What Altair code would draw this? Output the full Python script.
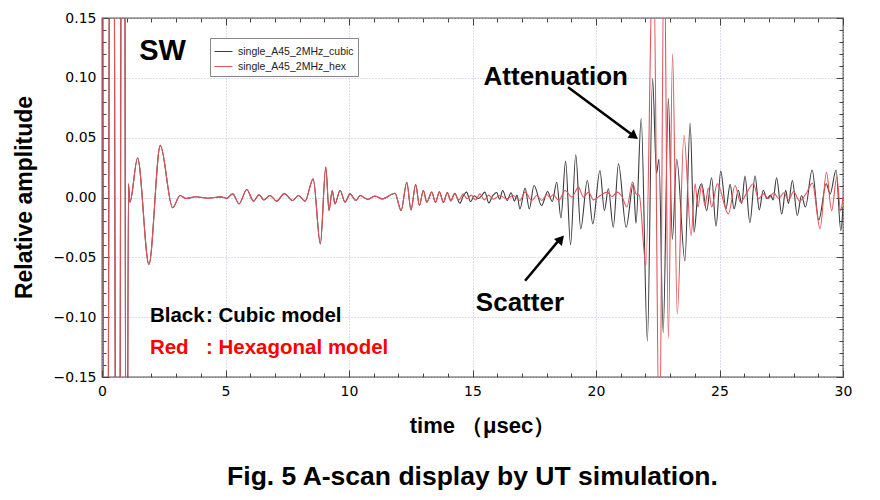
import altair as alt
import pandas as pd

# ---------------- data ----------------
# part shared by both models (0 - 13.5 us)
common_t = [0.00, 0.15, 0.40, 0.64, 0.86, 1.00, 1.07, 1.13, 1.44, 1.90, 2.36, 2.86, 3.16, 3.40,
            3.80, 4.30, 4.80, 5.05, 5.29, 5.55, 5.86, 6.13, 6.36, 6.56, 6.80, 7.07, 7.38, 7.72,
            7.95, 8.22, 8.55, 8.84, 9.06, 9.19, 9.32, 9.43, 9.64, 9.84, 10.04, 10.28, 10.45,
            10.75, 11.05, 11.35, 11.86, 12.11, 12.34, 12.51, 12.70, 12.85, 13.01, 13.15, 13.35, 13.50]
common_v = [0.6, -0.8, 0.8, -0.8, 0.8, -0.5, 0.0115, -0.004, 0.033, -0.056, 0.0436, -0.0086, 0.0017, -0.0008,
            0.0006, -0.0006, 0.0005, -0.0006, 0.003, -0.0053, 0.0067, -0.003, 0.0022, -0.002, 0.0017, -0.003, 0.0032, -0.0025,
            0.0017, -0.003, 0.0156, -0.0388, 0.0254, -0.0109, 0.0059, -0.0053, 0.0059, -0.0039, 0.003, -0.0025, 0.0017,
            -0.0015, 0.0012, -0.0012, 0.0036, -0.0109, 0.0128, -0.0103, 0.0109, -0.0067, 0.0059, -0.004, 0.0045, -0.004]

cubic_t = [13.66, 13.82, 13.98, 14.12, 14.28, 14.49, 14.62, 14.76, 14.92, 15.08, 15.22, 15.36, 15.50, 15.66,
           15.82, 15.98, 16.10, 16.22, 16.40, 16.56, 16.70, 16.80, 16.92, 17.13, 17.30, 17.49, 17.80, 18.04,
           18.23, 18.41, 18.58, 18.77, 18.97, 19.18, 19.38, 19.65, 19.87, 20.16, 20.34, 20.50, 20.70, 20.91,
           21.22, 21.51, 21.62, 21.83, 22.08, 22.29, 22.45, 22.55, 22.72, 22.93, 23.09, 23.27, 23.60, 23.81,
           23.97, 24.12, 24.28, 24.48, 24.68, 24.86, 25.05, 25.26, 25.43, 25.59, 25.76, 25.90, 26.03, 26.23,
           26.44, 26.61, 26.77, 26.92, 27.07, 27.17, 27.31, 27.52, 27.68, 27.79, 27.95, 28.15, 28.32, 28.48,
           28.75, 29.02, 29.32, 29.48, 29.72, 29.91, 30.00]
cubic_v = [0.0048, -0.0042, 0.0042, -0.0025, 0.0035, -0.0048, 0.001, 0.0045, -0.0035, 0.0015, -0.001, 0.0012, 0.0045, -0.0045,
           0.0015, 0.0042, -0.0015, 0.0059, -0.0025, 0.004, -0.003, 0.002, -0.0095, 0.0078, -0.0095, 0.010, -0.0067, 0.005,
           -0.0034, 0.0128, -0.017, 0.0304, -0.0394, 0.0357, -0.0263, 0.0142, -0.022, 0.0226, -0.011, 0.0073, -0.0249, 0.0282,
           -0.0249, 0.0115, -0.0215, 0.066, -0.12, 0.0995, 0.02, 0.032, -0.113, 0.083, -0.035, 0.032, -0.053, 0.062,
           -0.029, 0.002, 0.0115, -0.011, 0.0165, -0.024, 0.022, -0.0095, 0.011, -0.0095, 0.006, -0.005, 0.018, -0.021,
           0.018, -0.0103, 0.006, -0.001, 0.002, -0.002, 0.0165, -0.0137, 0.006, -0.005, 0.0142, -0.015, 0.0017, -0.008,
           0.023, -0.0187, 0.0115, 0.003, 0.023, -0.0277, -0.008]

hex_t = [13.66, 13.82, 13.98, 14.12, 14.28, 14.45, 14.62, 14.78, 14.95, 15.12, 15.30, 15.48, 15.65, 15.84,
         16.11, 16.38, 16.65, 16.92, 17.13, 17.40, 17.60, 17.81, 18.01, 18.14, 18.27, 18.49, 18.75, 19.02,
         19.29, 19.49, 19.70, 19.90, 20.18, 20.45, 20.65, 20.85, 21.05, 21.25, 21.48, 21.62, 21.75, 22.02,
         22.32, 22.57, 22.76, 22.93, 23.10, 23.29, 23.56, 23.85, 24.01, 24.13, 24.27, 24.41, 24.55, 24.68,
         24.91, 25.36, 25.63, 25.85, 26.08, 26.37, 26.58, 26.78, 26.98, 27.20, 27.40, 27.60, 27.80, 28.00,
         28.24, 28.50, 28.76, 29.07, 29.33, 29.54, 29.75, 29.90, 30.00]
hex_v = [0.0045, -0.004, 0.004, -0.003, 0.003, -0.002, 0.003, -0.001, 0.002, -0.002, 0.003, -0.002, 0.002, -0.0015,
         0.0017, -0.001, 0.0017, -0.0025, 0.0045, -0.0025, 0.0017, -0.0025, 0.0025, 0.0, 0.0025, -0.0025, 0.0059, 0.0003,
         0.0087, 0.0003, 0.0045, -0.002, 0.0017, 0.0045, 0.0008, 0.0045, 0.0008, -0.008, 0.013, 0.003, 0.002, -0.057,
         0.22, -0.22, 0.22, -0.118, 0.12, -0.0975, 0.052, -0.032, 0.0115, -0.008, 0.010, -0.007, 0.008, -0.008,
         0.0115, -0.0137, 0.010, -0.004, 0.003, 0.0115, -0.001, 0.003, -0.001, 0.004, -0.001, 0.004, -0.002, 0.005,
         -0.003, 0.003, 0.012, -0.026, 0.021, -0.011, 0.017, -0.011, 0.0]

series_names = ["single_A45_2MHz_cubic", "single_A45_2MHz_hex"]
series_colors = ["#3a3a3a", "#e4525a"]

x_major = [0, 5, 10, 15, 20, 25, 30]
y_major = [-0.15, -0.10, -0.05, 0.0, 0.05, 0.10, 0.15]
x_minor = list(range(0, 31))
y_minor = [round(-0.15 + 0.01 * i, 2) for i in range(31)]

# annotations (data coordinates)
big_text = ["Attenuation", "Scatter"]
big_t = [18.37, 16.92]
big_v = [0.0939, -0.0947]
sw_text = ["SW"]
sw_t = [2.45]
sw_v = [0.1148]
notes_text = ["Black", ": Cubic model", "Red", ": Hexagonal model"]
notes_t = [1.94, 4.21, 1.94, 4.21]
notes_v = [-0.1039, -0.1039, -0.131, -0.131]
notes_color = ["#000000", "#000000", "#ff0000", "#ff0000"]
arrow_t0 = [18.87, 17.13]
arrow_v0 = [0.0922, -0.0696]
arrow_t1 = [21.45, 18.50]
arrow_v1 = [0.0527, -0.0356]
head_t = [21.55, 18.58]
head_v = [0.0512, -0.0347]
head_angle = [36.5, 311.4]

# ---------------- build tables ----------------
rows = []
for name, tt, vv in [(series_names[0], common_t + cubic_t, common_v + cubic_v),
                     (series_names[1], common_t + hex_t, common_v + hex_v)]:
    for a, b in zip(tt, vv):
        rows.append({"t": a, "v": b, "series": name})
df = pd.DataFrame(rows)

W, H = 741, 359
xs = alt.Scale(domain=[0, 30], nice=False, zero=False)
ys = alt.Scale(domain=[-0.15, 0.15], nice=False, zero=False)

tick_x_size = {"condition": {"test": "datum.value % 5 === 0", "value": 7}, "value": 4}
tick_y_size = {"condition": {"test": "abs(round(datum.value * 100)) % 5 === 0", "value": 7}, "value": 4}

def tick_axis(orient, offset, values, size):
    return alt.Axis(orient=orient, offset=offset, values=values, labels=False, domain=False,
                    grid=False, title=None, ticks=True, tickSize=size, tickColor="#444",
                    tickWidth=1)

grid_kw = dict(grid=True, gridColor="#b9b9e6", gridDash=[1, 2], gridWidth=1)

lines = alt.Chart(df).mark_line(clip=True, strokeWidth=1.1, interpolate="monotone").encode(
    x=alt.X("t:Q", scale=xs, axis=alt.Axis(
        orient="bottom", values=x_major, format="d", labelFont="DejaVu Sans", labelFontSize=14,
        labelColor="#000", labelPadding=7, labelFlush=False, ticks=False, domain=False,
        title="time （μsec）", titleFont="Liberation Sans", titleFontSize=22, titleFontWeight="bold",
        titleColor="#000", titleX=380, titleY=55, titleBaseline="alphabetic", **grid_kw)),
    y=alt.Y("v:Q", scale=ys, axis=alt.Axis(
        orient="left", values=y_major, format=".2f", labelFont="DejaVu Sans", labelFontSize=14,
        labelColor="#000", labelPadding=6, ticks=False, domain=False,
        title="Relative amplitude", titleFont="Liberation Sans", titleFontSize=23,
        titleFontWeight="bold", titleColor="#000", titleAngle=270, titleX=-71, titleY=179,
        titleBaseline="alphabetic", **grid_kw)),
    color=alt.Color("series:N", scale=alt.Scale(domain=series_names, range=series_colors),
                    legend=alt.Legend(orient="none", legendX=108, legendY=20, title=None,
                                      symbolType="stroke", symbolSize=324, symbolStrokeWidth=1,
                                      labelFont="Liberation Sans", labelFontSize=10.5,
                                      labelColor="#222", labelOffset=5, strokeColor="#888",
                                      fillColor="white", padding=4, rowPadding=0)),
)

sw_df = pd.DataFrame({"t": sw_t, "v": sw_v, "txt": sw_text})
sw_layer = alt.Chart(sw_df).mark_text(font="Liberation Sans", fontSize=29, fontWeight="bold",
                                      align="center", baseline="alphabetic", color="black").encode(
    x=alt.X("t:Q", scale=xs, axis=tick_axis("top", -H, x_minor, tick_x_size)),
    y=alt.Y("v:Q", scale=ys, axis=tick_axis("right", -W, y_minor, tick_y_size)),
    text="txt:N",
)

arrow_df = pd.DataFrame({"t0": arrow_t0, "v0": arrow_v0, "t1": arrow_t1, "v1": arrow_v1})
arrows = alt.Chart(arrow_df).mark_rule(strokeWidth=2.5, color="black").encode(
    x=alt.X("t0:Q", scale=xs, axis=tick_axis("bottom", -H, x_minor, tick_x_size)),
    y=alt.Y("v0:Q", scale=ys, axis=tick_axis("left", -W, y_minor, tick_y_size)),
    x2="t1:Q", y2="v1:Q",
)

head_df = pd.DataFrame({"t": head_t, "v": head_v, "ang": head_angle})
heads = alt.Chart(head_df).mark_point(shape="triangle-right", filled=True, size=110,
                                      color="black", opacity=1).encode(
    x=alt.X("t:Q", scale=xs, axis=None),
    y=alt.Y("v:Q", scale=ys, axis=None),
    angle=alt.Angle("ang:Q", scale=None),
)

big_df = pd.DataFrame({"t": big_t, "v": big_v, "txt": big_text})
big_layer = alt.Chart(big_df).mark_text(font="Liberation Sans", fontSize=26, fontWeight="bold",
                                        align="center", baseline="alphabetic", color="black").encode(
    x=alt.X("t:Q", scale=xs, axis=None),
    y=alt.Y("v:Q", scale=ys, axis=None),
    text="txt:N",
)

notes_df = pd.DataFrame({"t": notes_t, "v": notes_v, "txt": notes_text, "c": notes_color})
notes_layer = alt.Chart(notes_df).mark_text(font="Liberation Sans", fontSize=20.5, fontWeight="bold",
                                            align="left", baseline="alphabetic").encode(
    x=alt.X("t:Q", scale=xs, axis=None),
    y=alt.Y("v:Q", scale=ys, axis=None),
    text="txt:N",
    color=alt.Color("c:N", scale=None),
)

chart = alt.layer(lines, sw_layer, arrows, heads, big_layer, notes_layer).resolve_axis(
    x="independent", y="independent"
).properties(
    width=W, height=H,
    autosize=alt.AutoSizeParams(type="none"),
    padding={"left": 102, "top": 18, "right": 880 - 102 - W, "bottom": 500 - 18 - H},
    background="white",
    title=alt.TitleParams("Fig. 5 A-scan display by UT simulation.", orient="bottom",
                          anchor="middle", frame="group", offset=49, baseline="alphabetic",
                          font="Liberation Sans", fontSize=26.5, fontWeight="bold", color="black"),
).configure_view(stroke="#555", strokeWidth=1.3)

chart.save("out.html", embed_options={"renderer": "svg", "actions": False})
